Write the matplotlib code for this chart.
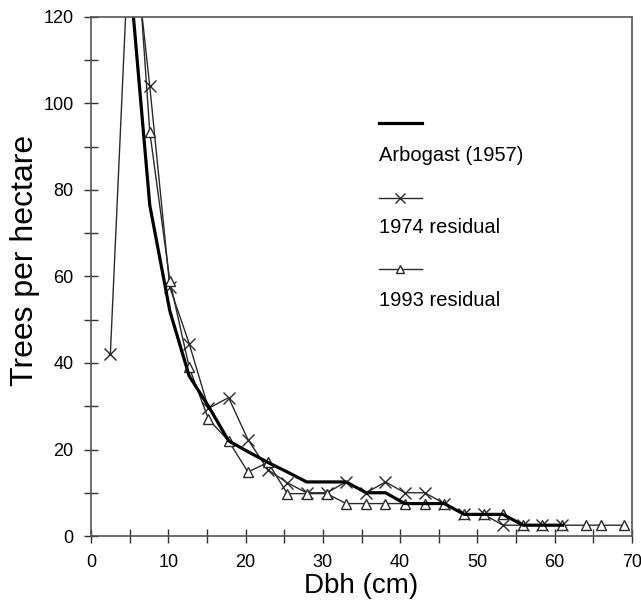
import numpy as np
import matplotlib
matplotlib.use("Agg")
import matplotlib.pyplot as plt
from matplotlib.ticker import MultipleLocator

plt.rcParams['font.family'] = ['Liberation Sans', 'DejaVu Sans']

# diameter classes (cm) and trees per hectare
dbh_arbogast = [5.1, 7.6, 10.2, 12.7, 15.2, 17.8, 20.3, 22.9, 25.4, 27.9, 30.5, 33.0,
                35.6, 38.1, 40.6, 43.2, 45.7, 48.3, 50.8, 53.3, 55.9, 58.4, 61.0]
tph_arbogast = [128, 76.5, 52, 37, 30, 22, 19.5, 17, 14.8, 12.5, 12.5, 12.5,
                10, 10, 7.5, 7.5, 7.5, 5, 5, 5, 2.5, 2.5, 2.5]

dbh_1974 = [2.5, 5.1, 7.6, 10.2, 12.7, 15.2, 17.8, 20.3, 22.9, 25.4, 27.9, 30.5, 33.0,
            35.6, 38.1, 40.6, 43.2, 45.7, 48.3, 50.8, 53.3, 55.9, 58.4, 61.0]
tph_1974 = [42, 145, 104, 57.5, 44.5, 29.5, 32, 22.3, 15.3, 12.3, 10, 10, 12.5,
            10, 12.5, 10, 10, 7.5, 5, 5, 2.5, 2.5, 2.5, 2.5]

dbh_1993 = [5.1, 7.6, 10.2, 12.7, 15.2, 17.8, 20.3, 22.9, 25.4, 27.9, 30.5, 33.0,
            35.6, 38.1, 40.6, 43.2, 45.7, 48.3, 50.8, 53.3, 55.9, 58.4, 61.0,
            64.0, 66.0, 69.0]
tph_1993 = [158, 93.5, 59, 39, 27, 22, 14.8, 17, 9.8, 9.8, 9.8, 7.5,
            7.5, 7.5, 7.5, 7.5, 7.5, 5, 5, 5, 2.5, 2.5, 2.5,
            2.5, 2.5, 2.5]

labels = ["Arbogast (1957)", "1974 residual", "1993 residual"]

fig = plt.figure(figsize=(6.41, 6.06), dpi=100)
ax = fig.add_axes([0.142, 0.1155, 0.844, 0.8565])

thin = dict(color='#2a2a2a', lw=1.0, mfc='white', mec='#2a2a2a', mew=1.0, clip_on=True)
ax.plot(dbh_1974, tph_1974, marker='x', ms=8, **thin)
ax.plot(dbh_1993, tph_1993, marker='^', ms=7, **thin)
ax.plot(dbh_arbogast, tph_arbogast, color='black', lw=2.3)

ax.set_xlim(0, 70)
ax.set_ylim(0, 120)
ax.xaxis.set_major_locator(MultipleLocator(10))
ax.xaxis.set_minor_locator(MultipleLocator(5))
ax.yaxis.set_major_locator(MultipleLocator(20))
ax.yaxis.set_minor_locator(MultipleLocator(10))
ax.tick_params(which='both', direction='inout', length=9.4, width=1.0,
               color='#333333', labelsize=13, top=False, right=False)
ax.tick_params(axis='x', pad=8)
ax.tick_params(axis='y', pad=8)
for s in ax.spines.values():
    s.set_color('#555555')
    s.set_linewidth(1.2)

ax.set_xlabel("Dbh (cm)", fontsize=20, labelpad=2)
fig.text(0.039, 0.571, "Trees per hectare", fontsize=23, rotation=90,
         ha='center', va='center')

# hand-made legend: line sample above its label
x0, x1 = 0.533, 0.611
xm = (x0 + x1) / 2
ys = [0.796, 0.652, 0.514]
yt = [0.723, 0.583, 0.443]
ax.plot([x0, x1], [ys[0], ys[0]], color='black', lw=2.3, transform=ax.transAxes)
ax.plot([x0, x1], [ys[1], ys[1]], color='#2a2a2a', lw=1.0, transform=ax.transAxes)
ax.plot([xm], [ys[1]], marker='x', ms=7, color='#2a2a2a', transform=ax.transAxes)
ax.plot([x0, x1], [ys[2], ys[2]], color='#2a2a2a', lw=1.0, transform=ax.transAxes)
ax.plot([xm], [ys[2]], marker='^', ms=6, mfc='white', mec='#2a2a2a', transform=ax.transAxes)
for y, t in zip(yt, labels):
    ax.text(x0, y, t, fontsize=14.5, transform=ax.transAxes, va='baseline', ha='left')

fig.savefig("out.png", dpi=100)
